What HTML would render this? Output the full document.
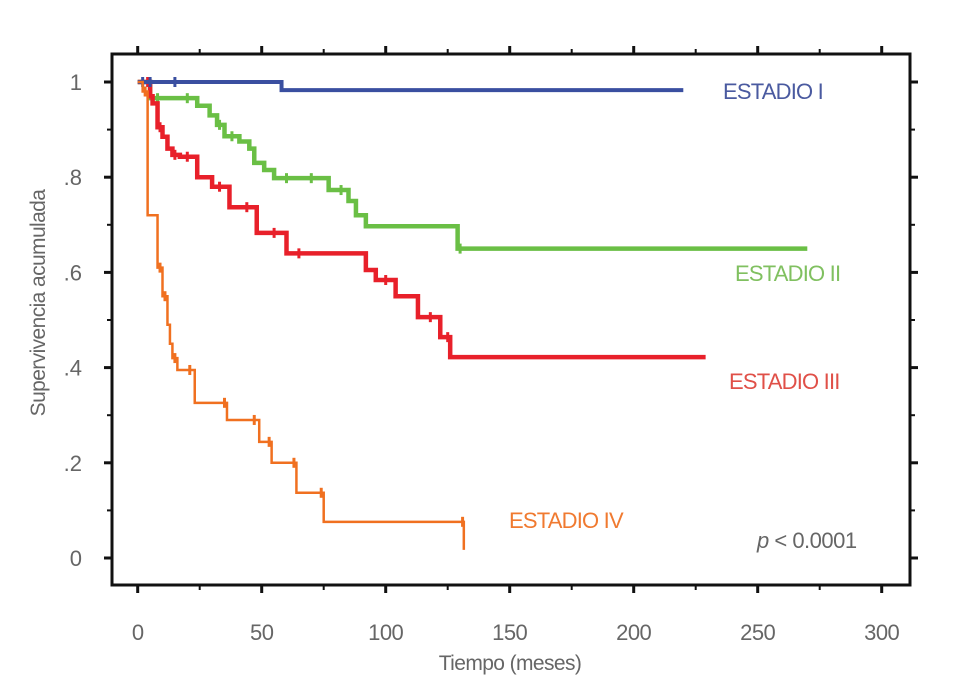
<!DOCTYPE html>
<html><head><meta charset="utf-8"><style>
html,body{margin:0;padding:0;background:#fff;}
svg{display:block;font-family:"Liberation Sans Narrow","Liberation Sans",sans-serif;}
</style></head><body>
<svg id="chart" width="958" height="687" viewBox="0 0 958 687">
<rect x="0" y="0" width="958" height="687" fill="#fff"/>
<g id="axes"></g>
<g id="series"></g>
<text x="723" y="99" font-size="22" letter-spacing="-0.8" fill="#4a5aa0">ESTADIO I</text>
<text x="735" y="281" font-size="22" letter-spacing="-0.8" fill="#80c060">ESTADIO II</text>
<text x="729" y="389" font-size="22" letter-spacing="-0.8" fill="#e05048">ESTADIO III</text>
<text x="509" y="528" font-size="22" letter-spacing="-0.8" fill="#f07a30">ESTADIO IV</text>
<text x="757" y="548" font-size="22" letter-spacing="-0.5" fill="#666"><tspan font-style="italic">p</tspan> &lt; 0.0001</text>
<text x="510" y="670" font-size="21" letter-spacing="-0.6" fill="#666" text-anchor="middle">Tiempo (meses)</text>
<text transform="translate(45,303) rotate(-90)" font-size="21" letter-spacing="-0.6" fill="#666" text-anchor="middle">Supervivencia acumulada</text>
</svg>
<script>
const xTicks = [0, 50, 100, 150, 200, 250, 300];
const yTicks = [0, 0.2, 0.4, 0.6, 0.8, 1];
const yTickLabels = ["0", ".2", ".4", ".6", ".8", "1"];
const seriesNames = ["estadio-i", "estadio-ii", "estadio-iii", "estadio-iv"];
const seriesColors = ["#3a4fa0", "#6abf45", "#e8202a", "#f07020"];
const stage1Times = [0, 58, 220];
const stage1Surv = [1.0, 0.983, 0.983];
const stage2Times = [0, 5, 24, 29, 32, 35, 41, 45, 47, 51, 55, 77, 85, 88, 92, 129, 270];
const stage2Surv = [1.0, 0.966, 0.95, 0.93, 0.91, 0.886, 0.875, 0.86, 0.83, 0.815, 0.798, 0.773, 0.75, 0.72, 0.697, 0.65, 0.65];
const stage3Times = [0, 5, 6, 8, 10, 12, 14, 17, 24, 30, 37, 48, 60, 92, 96, 104, 113, 122, 126, 229];
const stage3Surv = [1.0, 0.97, 0.955, 0.905, 0.885, 0.86, 0.847, 0.843, 0.80, 0.78, 0.737, 0.683, 0.64, 0.605, 0.584, 0.55, 0.506, 0.464, 0.422, 0.422];
const stage4Times = [0, 2, 4, 8, 10, 12, 13, 14, 16, 23, 36, 49, 54, 64, 75, 131.5, 131.5];
const stage4Surv = [1.0, 0.98, 0.72, 0.61, 0.55, 0.49, 0.45, 0.42, 0.395, 0.326, 0.29, 0.244, 0.2, 0.137, 0.076, 0.017, 0.017];
const censor1 = [2, 5, 15];
const censor2 = [8, 20, 33, 38, 60, 70, 82, 130];
const censor3 = [4, 9, 15, 20, 33, 44, 55, 65, 100, 118, 125];
const censor4 = [3, 9, 11, 15, 21, 35, 47, 53, 63, 74, 131];

const NS = "http://www.w3.org/2000/svg";
const X0 = 137.7, X1 = 881.7, Y0 = 558, Y1 = 82;
function sx(v){ return X0 + (X1 - X0) * v / 300; }
function sy(v){ return Y0 - (Y0 - Y1) * v; }
const axes = document.getElementById('axes');
const series = document.getElementById('series');
function mk(tag, attrs, parent){
  const e = document.createElementNS(NS, tag);
  for (const k in attrs) e.setAttribute(k, attrs[k]);
  parent.appendChild(e);
  return e;
}
const frame = mk('rect', {x:112, y:54, width:798, height:531, fill:'none', stroke:'#111', 'stroke-width':3}, axes);


xTicks.forEach((t, i) => {
  const x = sx(t);
  const b = mk('line', {x1:x, y1:585, x2:x, y2:593, stroke:'#111', 'stroke-width':3}, axes);
  
  
  const tp = mk('line', {x1:x, y1:54, x2:x, y2:46, stroke:'#111', 'stroke-width':3}, axes);
  
  
  if (i < xTicks.length - 1) {
    const xm = sx(t + 25);
    mk('line', {x1:xm, y1:585, x2:xm, y2:590, stroke:'#111', 'stroke-width':2}, axes);
    mk('line', {x1:xm, y1:54, x2:xm, y2:49, stroke:'#111', 'stroke-width':2}, axes);
  }
  const lb = mk('text', {x:x, y:640, 'font-size':22, fill:'#666', 'text-anchor':'middle', 'letter-spacing':-0.5}, axes);
  lb.textContent = String(t);
  
  
});
yTicks.forEach((t, i) => {
  const y = sy(t);
  const l = mk('line', {x1:104, y1:y, x2:112, y2:y, stroke:'#111', 'stroke-width':3}, axes);
  
  
  mk('line', {x1:910, y1:y, x2:918, y2:y, stroke:'#111', 'stroke-width':3}, axes);
  if (i < yTicks.length - 1) {
    const ym = sy(t + 0.1);
    mk('line', {x1:107, y1:ym, x2:112, y2:ym, stroke:'#111', 'stroke-width':2}, axes);
    mk('line', {x1:910, y1:ym, x2:915, y2:ym, stroke:'#111', 'stroke-width':2}, axes);
  }
  const lb = mk('text', {x:82, y:y + 8, 'font-size':22, fill:'#666', 'text-anchor':'end'}, axes);
  lb.textContent = yTickLabels[i];
  
  
});
function stepPath(ts, ss){
  let d = 'M' + sx(ts[0]) + ',' + sy(ss[0]);
  for (let i = 1; i < ts.length; i++) {
    d += ' H' + sx(ts[i]) + ' V' + sy(ss[i]);
  }
  return d;
}
function survAt(ts, ss, t){
  let v = ss[0];
  for (let i = 0; i < ts.length; i++) if (ts[i] <= t) v = ss[i];
  return v;
}
const allT = [stage1Times, stage2Times, stage3Times, stage4Times];
const allS = [stage1Surv, stage2Surv, stage3Surv, stage4Surv];
const widths = [4, 4.5, 4.5, 2.5];
const censors = [censor1, censor2, censor3, censor4];
[1, 2, 0, 3].forEach(k => {
  const p = mk('path', {d:stepPath(allT[k], allS[k]), fill:'none', stroke:seriesColors[k], 'stroke-width':widths[k], 'stroke-linejoin':'miter'}, series);
  
  
  censors[k].forEach(c => {
    const y = sy(survAt(allT[k], allS[k], c));
    const m = mk('line', {x1:sx(c), y1:y - 5, x2:sx(c), y2:y + 5, stroke:seriesColors[k], 'stroke-width':3}, series);
    
    
  });
});
</script>
</body></html>
